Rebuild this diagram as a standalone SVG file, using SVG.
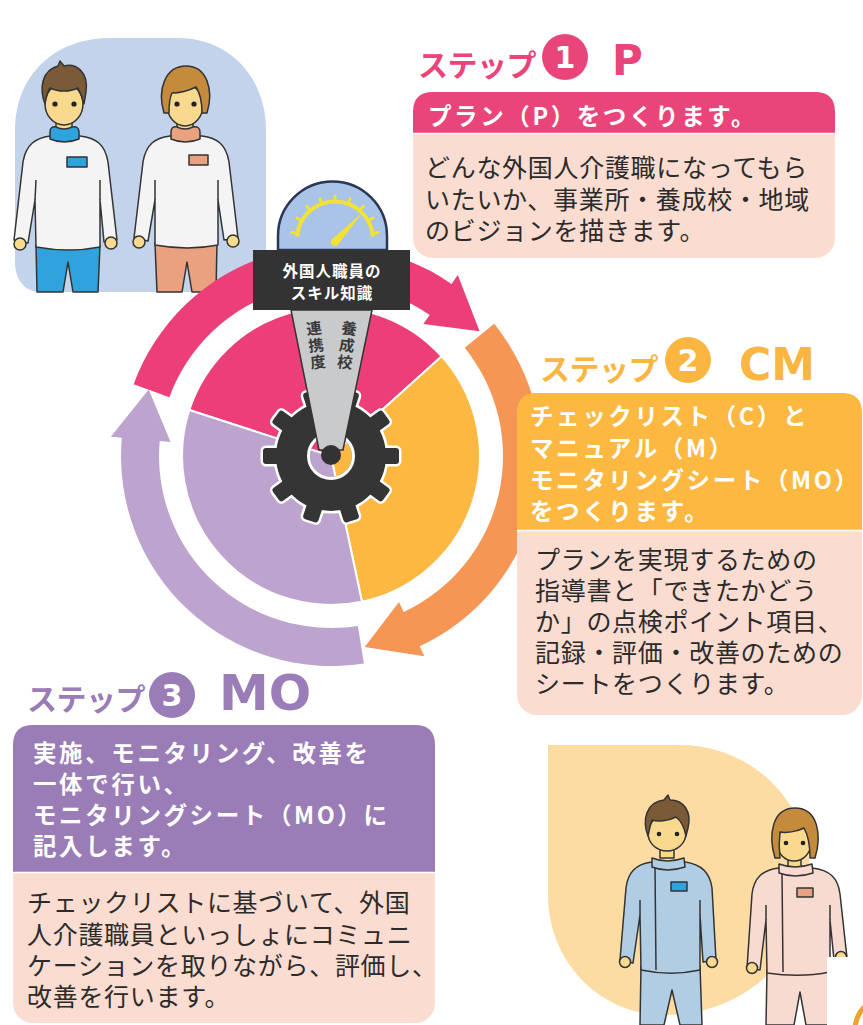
<svg xmlns="http://www.w3.org/2000/svg" width="863" height="1025" viewBox="0 0 863 1025">
  <style>
    .jp { font-family: "Noto Sans CJK JP", "Noto Sans", sans-serif; }
    .title { font-size: 30px; font-weight: bold; letter-spacing: -0.5px; }
    .abbr { font-family: "DejaVu Sans", "Liberation Sans", sans-serif; font-weight: bold; }
    .num { font-family: "DejaVu Sans", "Liberation Sans", sans-serif; font-size: 30px; font-weight: bold; fill: #fff; }
    .head { font-size: 23.5px; font-weight: bold; fill: #fff; letter-spacing: 2.6px; }
    .body { font-size: 25px; fill: #2b2b2b; letter-spacing: 0.7px; }
    .peach { fill: #fadcd0; }
    .ln { stroke: #333; stroke-width: 1.5; stroke-linejoin: round; }
    .skin { fill: #f8d98e; }
    .eye { fill: #222; }
  </style>

  <rect width="863" height="1025" fill="#fff"/>

  <!-- People, upper left -->
  <g id="people-top">
    <path d="M15,262 V130 C15,75 55,38 110,38 H178 C230,38 266,78 266,130 V292 H40 C25,292 15,280 15,262 Z" fill="#c3d3ec"/>
    <!-- man -->
    <path class="ln" d="M36,245 L100,245 L98,292 L73,292 L68,262 L63,292 L37,292 Z" fill="#2ea3dd"/>
    <path class="ln" d="M50,136 C36,138 26,144 23,162 L14,240 L28,243 L35,200 L36,247 C58,251 80,251 100,247 L100,200 L104,242 L117,240 L108,162 C105,144 96,138 80,136 Z" fill="#f4f4f4"/>
    <path class="ln" d="M36,180 L35,200 M100,180 L100,200" fill="none"/>
    <circle class="ln skin" cx="20" cy="244" r="6"/>
    <circle class="ln skin" cx="111" cy="243" r="6"/>
    <rect class="ln skin" x="56" y="120" width="16" height="12"/>
    <path class="ln" d="M50,132 Q50,126 56,127 Q64,131 72,127 Q79,126 79,132 L79,139 Q64,145 50,139 Z" fill="#2ea3dd"/>
    <ellipse class="ln skin" cx="64" cy="104" rx="19" ry="21"/>
    <path class="ln" d="M45,104 C39,88 42,70 58,66 L60,61 L64,66 C76,63 89,72 86,92 L84,104 C82,96 80,92 78,88 C70,92 58,92 50,88 C47,92 46,98 45,104 Z" fill="#7b5a37"/>
    <circle class="eye" cx="55" cy="104" r="2.6"/>
    <circle class="eye" cx="74" cy="104" r="2.6"/>
    <rect class="ln" x="67" y="157" width="20" height="10" fill="#2ea3dd"/>
    <!-- woman -->
    <path class="ln" d="M155,243 L217,243 L216,292 L192,292 L187,262 L182,292 L157,292 Z" fill="#e9a17f"/>
    <path class="ln" d="M170,136 C155,138 146,144 143,162 L134,238 L148,241 L155,200 L155,245 C177,249 198,249 218,245 L218,200 L224,240 L238,238 L229,162 C226,144 217,138 202,136 Z" fill="#f4f4f4"/>
    <path class="ln" d="M155,180 L155,200 M218,180 L218,200" fill="none"/>
    <circle class="ln skin" cx="139" cy="242" r="6"/>
    <circle class="ln skin" cx="233" cy="241" r="6"/>
    <rect class="ln skin" x="177" y="120" width="16" height="12"/>
    <path class="ln" d="M171,132 Q171,126 177,127 Q185,131 193,127 Q200,126 200,132 L200,139 Q185,145 171,139 Z" fill="#e9a17f"/>
    <ellipse class="ln skin" cx="185" cy="105" rx="18" ry="21"/>
    <path class="ln" d="M164,113 C157,90 165,66 186,66 C207,66 214,90 207,113 L202,113 C202,101 200,93 196,87 C188,91 178,93 172,93 C169,99 169,107 169,113 Z" fill="#c48b3d"/>
    <circle class="eye" cx="177" cy="104" r="2.6"/>
    <circle class="eye" cx="194" cy="104" r="2.6"/>
    <rect class="ln" x="189" y="155" width="19" height="10" fill="#e9a17f"/>
  </g>

  <!-- Cycle: pie, gear, gauge -->
  <g id="cycle-pie">
    <path d="M331,456 L189.3,410 A149,149 0 0 1 441.7,356.3 Z" fill="#ec3e78" stroke="#fff" stroke-width="2"/>
    <path d="M331,456 L441.7,356.3 A149,149 0 0 1 362,601.7 Z" fill="#fcb841" stroke="#fff" stroke-width="2"/>
    <path d="M331,456 L362,601.7 A149,149 0 0 1 189.3,410 Z" fill="#bca4cf" stroke="#fff" stroke-width="2"/>
  </g>

  <g id="gear">
    <defs>
      <g id="gear-shape">
        <circle cx="0" cy="0" r="55"/>
        <rect x="-8" y="-68" width="16" height="20" rx="3" transform="rotate(18)"/>
        <rect x="-8" y="-68" width="16" height="20" rx="3" transform="rotate(54)"/>
        <rect x="-8" y="-68" width="16" height="20" rx="3" transform="rotate(90)"/>
        <rect x="-8" y="-68" width="16" height="20" rx="3" transform="rotate(126)"/>
        <rect x="-8" y="-68" width="16" height="20" rx="3" transform="rotate(162)"/>
        <rect x="-8" y="-68" width="16" height="20" rx="3" transform="rotate(198)"/>
        <rect x="-8" y="-68" width="16" height="20" rx="3" transform="rotate(234)"/>
        <rect x="-8" y="-68" width="16" height="20" rx="3" transform="rotate(270)"/>
        <rect x="-8" y="-68" width="16" height="20" rx="3" transform="rotate(306)"/>
        <rect x="-8" y="-68" width="16" height="20" rx="3" transform="rotate(342)"/>
      </g>
      <mask id="gear-hole">
        <rect x="-100" y="-100" width="200" height="200" fill="#fff"/>
        <circle cx="0" cy="0" r="21" fill="#000"/>
      </mask>
    </defs>
    <g transform="translate(331,456)">
      <use href="#gear-shape" fill="#fff" stroke="#fff" stroke-width="5" mask="url(#gear-hole)"/>
      <use href="#gear-shape" fill="#353535" mask="url(#gear-hole)"/>
      <circle cx="0" cy="0" r="22.5" fill="none" stroke="#fff" stroke-width="3"/>
    </g>
  </g>

  <!-- Ring arrows around the cycle -->
  <g id="connectors">
    <path d="M133.7,384.2 A210,210 0 0 1 451.5,284 L457.8,275 L479.6,331.3 L423.3,324.1 L429.7,315.1 A172,172 0 0 0 169.4,397.2 Z" fill="#ec3e78"/>
    <path d="M494.2,323.8 A210,210 0 0 1 419.7,646.3 L424.4,656.3 L364.7,647.1 L399,601.9 L403.7,611.9 A172,172 0 0 0 464.7,347.8 Z" fill="#f59654"/>
    <path d="M363.9,663.4 A210,210 0 0 1 121.8,437.7 L110.8,436.7 L148.7,389.6 L170.6,442 L159.7,441 A172,172 0 0 0 357.9,625.9 Z" fill="#bca4cf"/>
  </g>

  <g id="gauge">
    <path d="M278,250 V236 A54.5,54.5 0 0 1 387,236 V250 Z" fill="#a9c4e7" stroke="#2d3556" stroke-width="2.5"/>
    <path d="M297.1,236.7 A38,38 0 0 1 372.9,236.7" fill="none" stroke="#f2e236" stroke-width="4"/>
    <path d="M297.6,233.4 L291.7,232.4 M302.1,221 L296.9,218 M310.6,210.9 L306.7,206.3 M322,204.3 L320,198.7 M335,202 L335,196 M348,204.3 L350,198.7 M359.4,210.9 L363.3,206.3 M367.9,221 L373.1,218 M372.4,233.4 L378.3,232.4" stroke="#f2e236" stroke-width="3" stroke-linecap="round"/>
    <path d="M337.9,244.7 L363,212 L332.1,239.3 Z" fill="#f2e236"/>
    <circle cx="335" cy="242" r="4" fill="#f2e236"/>
    <rect x="253" y="250" width="157" height="60" fill="#333"/>
    <text class="jp" text-anchor="middle" font-size="15.5" font-weight="bold" fill="#fff" letter-spacing="1">
      <tspan x="332" y="277">外国人職員の</tspan><tspan x="332" y="299">スキル知識</tspan>
    </text>
    <path d="M291,310 L372,310 L343,450 L319,450 Z" fill="#c9cacc" stroke="#333" stroke-width="1.5"/>
    <circle cx="331" cy="455" r="10" fill="#333"/>
    <g transform="rotate(-7 316 345)">
      <text class="jp" font-size="15.5" font-weight="bold" fill="#3a3a3a" text-anchor="middle">
        <tspan x="316" y="334">連</tspan><tspan x="316" y="351">携</tspan><tspan x="316" y="368">度</tspan>
      </text>
    </g>
    <g transform="rotate(7 347 345)">
      <text class="jp" font-size="15.5" font-weight="bold" fill="#3a3a3a" text-anchor="middle">
        <tspan x="347" y="334">養</tspan><tspan x="347" y="351">成</tspan><tspan x="347" y="368">校</tspan>
      </text>
    </g>
  </g>

  <!-- Step 1 -->
  <g id="step1">
    <text class="jp title" x="418" y="76" fill="#ea457a">ステップ</text>
    <circle cx="565" cy="57" r="23" fill="#ea457a"/>
    <text class="num" x="565" y="68" text-anchor="middle">1</text>
    <text class="abbr" x="612" y="75" font-size="42" fill="#ea457a">P</text>
    <rect class="peach" x="413" y="92" width="422" height="166" rx="20"/>
    <path d="M413,133 V112 Q413,92 433,92 H815 Q835,92 835,112 V133 Z" fill="#ea457a"/>
    <line x1="413" y1="133.5" x2="835" y2="133.5" stroke="#fff" stroke-width="1.5"/>
    <text class="jp head" x="428" y="125">プラン（P）をつくります。</text>
    <text class="jp body">
      <tspan x="425" y="177">どんな外国人介護職になってもら</tspan>
      <tspan x="425" y="209">いたいか、事業所・養成校・地域</tspan>
      <tspan x="425" y="240">のビジョンを描きます。</tspan>
    </text>
  </g>

  <!-- Step 2 -->
  <g id="step2">
    <text class="jp title" x="540" y="380" fill="#fbb641">ステップ</text>
    <circle cx="688" cy="360" r="23" fill="#fbb641"/>
    <text class="num" x="688" y="371" text-anchor="middle">2</text>
    <text class="abbr" x="739" y="380" font-size="44" fill="#fbb641">CM</text>
    <rect class="peach" x="517" y="393" width="345" height="322" rx="20"/>
    <path d="M517,530 V413 Q517,393 537,393 H842 Q862,393 862,413 V530 Z" fill="#fcb841"/>
    <line x1="517" y1="530.5" x2="862" y2="530.5" stroke="#fff" stroke-width="1.5"/>
    <text class="jp head">
      <tspan x="530" y="425">チェックリスト（C）と</tspan>
      <tspan x="530" y="457">マニュアル（M）</tspan>
      <tspan x="530" y="489">モニタリングシート（MO）</tspan>
      <tspan x="530" y="520">をつくります。</tspan>
    </text>
    <text class="jp body">
      <tspan x="535" y="569">プランを実現するための</tspan>
      <tspan x="535" y="600">指導書と「できたかどう</tspan>
      <tspan x="535" y="631">か」の点検ポイント項目、</tspan>
      <tspan x="535" y="662">記録・評価・改善のための</tspan>
      <tspan x="535" y="693">シートをつくります。</tspan>
    </text>
  </g>

  <!-- Step 3 -->
  <g id="step3">
    <text class="jp title" x="27" y="710" fill="#9a7cb7">ステップ</text>
    <circle cx="172" cy="695" r="23" fill="#9a7cb7"/>
    <text class="num" x="172" y="706" text-anchor="middle">3</text>
    <text class="abbr" x="219" y="710" font-size="50" fill="#9a7cb7">MO</text>
    <rect class="peach" x="13" y="725" width="422" height="298" rx="20"/>
    <path d="M13,872 V745 Q13,725 33,725 H415 Q435,725 435,745 V872 Z" fill="#9a7cb7"/>
    <line x1="13" y1="872.5" x2="435" y2="872.5" stroke="#fff" stroke-width="1.5"/>
    <text class="jp head">
      <tspan x="33" y="762">実施、モニタリング、改善を</tspan>
      <tspan x="33" y="793">一体で行い、</tspan>
      <tspan x="33" y="824">モニタリングシート（MO）に</tspan>
      <tspan x="33" y="855">記入します。</tspan>
    </text>
    <text class="jp body">
      <tspan x="27" y="912">チェックリストに基づいて、外国</tspan>
      <tspan x="27" y="944">人介護職員といっしょにコミュニ</tspan>
      <tspan x="27" y="975">ケーションを取りながら、評価し、</tspan>
      <tspan x="27" y="1006">改善を行います。</tspan>
    </text>
  </g>

  <!-- People, lower right -->
  <g id="people-bottom">
    <path d="M548,745 H680 C750,745 810,800 810,875 C810,955 745,1015 665,1015 C598,1015 548,960 548,895 Z" fill="#fcdca3"/>
    <!-- man -->
    <path class="ln" d="M641,966 L700,966 L702,1025 L680,1025 L672,990 L664,1025 L640,1025 Z" fill="#b1cde4"/>
    <path class="ln" d="M652,862 C636,864 628,872 626,888 L620,960 L633,963 L640,915 L641,970 C660,974 682,974 700,970 L700,915 L703,962 L716,960 L712,888 C710,872 700,864 685,862 Z" fill="#b1cde4"/>
    <path class="ln" d="M640,900 L640,915 M700,900 L700,915 M655,866 L656,970" fill="none"/>
    <circle class="ln skin" cx="625" cy="962" r="5.5"/>
    <circle class="ln skin" cx="712" cy="962" r="5.5"/>
    <rect class="ln skin" x="660" y="845" width="14" height="13"/>
    <path class="ln" d="M652,858 Q667,864 684,858 L685,867 Q667,873 652,867 Z" fill="#b1cde4"/>
    <ellipse class="ln skin" cx="667" cy="833" rx="19" ry="18"/>
    <path class="ln" d="M648,836 C642,820 646,802 664,800 L668,795 L670,800 C684,800 692,812 688,828 L686,836 C684,826 680,820 676,817 C668,821 658,822 652,820 C650,826 649,831 648,836 Z" fill="#7b5a37"/>
    <circle class="eye" cx="659" cy="834" r="2.3"/>
    <circle class="eye" cx="677" cy="834" r="2.3"/>
    <rect class="ln" x="671" y="882" width="16" height="9" fill="#2ea3dd"/>
    <!-- woman -->
    <path class="ln" d="M767,970 L828,970 L830,1025 L806,1025 L800,992 L794,1025 L766,1025 Z" fill="#f8dbd0"/>
    <path class="ln" d="M779,868 C762,870 754,878 752,894 L747,968 L760,970 L766,920 L767,973 C788,976 810,976 830,972 L830,920 L834,960 L847,958 L840,894 C838,878 830,870 812,868 Z" fill="#f8dbd0"/>
    <path class="ln" d="M766,905 L766,920 M830,905 L830,920 M782,873 L783,972" fill="none"/>
    <circle class="ln skin" cx="752" cy="968" r="5.5"/>
    <circle class="ln skin" cx="841" cy="957" r="5.5"/>
    <rect class="ln skin" x="788" y="855" width="13" height="13"/>
    <path class="ln" d="M779,864 Q795,870 812,864 L813,873 Q795,879 779,873 Z" fill="#f8dbd0"/>
    <ellipse class="ln skin" cx="794" cy="843" rx="17" ry="18"/>
    <path class="ln" d="M775,858 C768,835 772,808 795,808 C818,808 822,835 815,858 L810,858 C810,845 808,835 804,828 C796,832 786,833 780,832 C779,840 779,850 780,858 Z" fill="#c48b3d"/>
    <circle class="eye" cx="786" cy="843" r="2.3"/>
    <circle class="eye" cx="803" cy="843" r="2.3"/>
    <rect class="ln" x="797" y="888" width="16" height="9" fill="#e9a17f"/>
    <!-- next panel edge -->
    <rect x="827" y="957" width="40" height="70" fill="#fff"/>
    <circle cx="888" cy="1030" r="33" fill="none" stroke="#f0a32a" stroke-width="5"/>
  </g>
</svg>
